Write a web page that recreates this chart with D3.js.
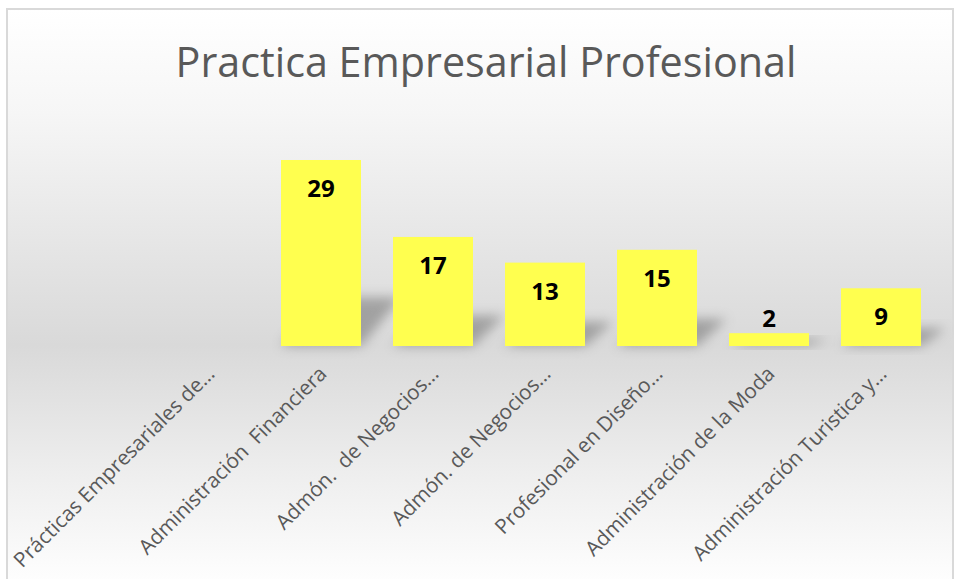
<!DOCTYPE html>
<html><head><meta charset="utf-8">
<script src="https://cdn.jsdelivr.net/npm/d3@7"></script>
<style>html,body{margin:0;padding:0;background:#fff;overflow:hidden}</style>
</head><body>
<svg id="chart" width="955" height="579"></svg>
<script>
const chartTitle = "Practica Empresarial Profesional";
const categories = [
  "Prácticas Empresariales de…",
  "Administración  Financiera",
  "Admón.  de Negocios…",
  "Admón. de Negocios…",
  "Profesional en Diseño…",
  "Administración de la Moda",
  "Administración Turistica y…"
];
const values = [null, 29, 17, 13, 15, 2, 9];

const W = 955, H = 579;
const svg = d3.select("#chart");
const defs = svg.append("defs");

const grad = defs.append("linearGradient").attr("id", "bg").attr("x1", 0).attr("y1", 0).attr("x2", 0).attr("y2", 1);
[[0, "#ffffff"], [0.18, "#f6f6f6"], [0.58, "#d9d9d9"], [0.8, "#eeeeee"], [1, "#ffffff"]]
  .forEach(([o, c]) => grad.append("stop").attr("offset", o).attr("stop-color", c));

const blur = defs.append("filter").attr("id", "shadowBlur").attr("x", "-50%").attr("y", "-50%").attr("width", "200%").attr("height", "200%");
blur.append("feGaussianBlur").attr("stdDeviation", 6);

// chart area
svg.append("rect").attr("x", 7).attr("y", 9).attr("width", 946).attr("height", 580)
  .attr("fill", "url(#bg)").attr("stroke", "#d9d9d9").attr("stroke-width", 2);

const baseY = 346, topY = 160;
const x = d3.scaleBand().domain(categories).range([153, 937]).paddingInner(2 / 7).paddingOuter(1 / 7);
const y = d3.scaleLinear().domain([0, 29]).range([baseY, topY]);

const data = categories.map((c, i) => ({ c, v: values[i] })).filter(d => d.v != null);

// perspective shadows
svg.append("g").selectAll("path").data(data).join("path")
  .attr("d", d => {
    const x0 = x(d.c), x1 = x0 + x.bandwidth();
    const h = baseY - y(d.v);
    const off = 0.12 * h + 18, sh = 0.24 * h + 4;
    return `M${x0},${baseY} L${x1},${baseY} L${x1 + off},${baseY - sh} L${x0 + off},${baseY - sh} Z`;
  })
  .attr("fill", "#666").attr("opacity", 0.5).attr("filter", "url(#shadowBlur)");

// bars
svg.append("g").selectAll("rect").data(data).join("rect")
  .attr("x", d => x(d.c)).attr("width", x.bandwidth())
  .attr("y", d => y(d.v)).attr("height", d => baseY - y(d.v))
  .attr("fill", "#ffff4f");

// value labels
svg.append("g").selectAll("text").data(data).join("text")
  .attr("x", d => x(d.c) + x.bandwidth() / 2)
  .attr("y", d => (baseY - y(d.v) > 30) ? y(d.v) + 37 : y(d.v) - 6)
  .attr("text-anchor", "middle")
  .attr("font-family", "'Open Sans', 'Noto Sans', sans-serif")
  .attr("font-weight", "bold").attr("font-size", 24).attr("fill", "#000")
  .text(d => d.v);

// category axis labels
const catG = svg.append("g");
const catFont = "'Open Sans', 'Noto Sans', sans-serif";
const probe = catG.append("text").attr("font-family", catFont).attr("font-size", 100).text(categories[5]);
const catSize = 100 * 258 / probe.node().getComputedTextLength();
probe.remove();
catG.selectAll("text").data(categories).join("text")
  .attr("transform", d => `translate(${x(d) + x.bandwidth() / 2 + 7},${375}) rotate(-45)`)
  .attr("text-anchor", "end")
  .attr("font-family", catFont).attr("font-size", catSize).attr("fill", "#595959")
  .style("white-space", "pre")
  .text(d => d);

// title
const tFont = "'Open Sans', 'Noto Sans', sans-serif";
const t = svg.append("text").attr("x", 486).attr("y", 77).attr("text-anchor", "middle")
  .attr("font-family", tFont).attr("font-size", 100).attr("fill", "#595959").text(chartTitle);
t.attr("font-size", 100 * 621 / t.node().getComputedTextLength());
</script>
</body></html>
